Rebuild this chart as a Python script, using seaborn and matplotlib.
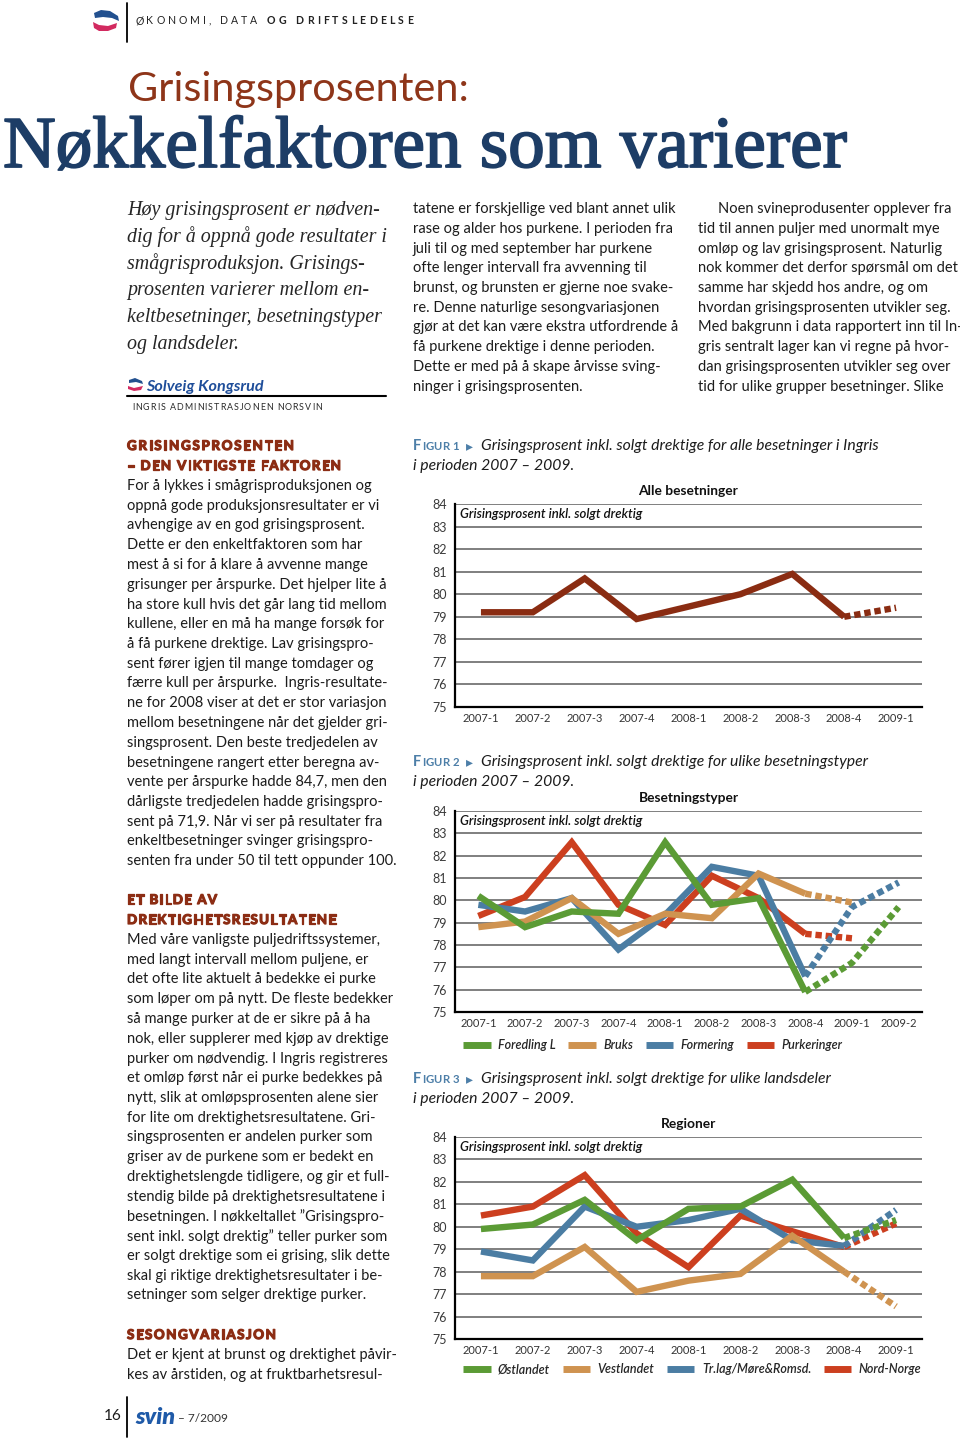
import numpy as np
import pandas as pd
import matplotlib
matplotlib.use("Agg")
import matplotlib.pyplot as plt
from matplotlib.lines import Line2D
from matplotlib.patches import Polygon
import matplotlib.patheffects as pe
import seaborn as sns

# ---------------- data ----------------
periods_fig1 = ["2007-1", "2007-2", "2007-3", "2007-4", "2008-1", "2008-2", "2008-3", "2008-4", "2009-1"]
alle_besetninger = [79.2, 79.2, 80.7, 78.9, 79.45, 80.0, 80.9, 79.0, 79.4]

periods_fig2 = ["2007-1", "2007-2", "2007-3", "2007-4", "2008-1", "2008-2", "2008-3", "2008-4", "2009-1", "2009-2"]
foredling_l = [80.2, 78.8, 79.5, 79.4, 82.6, 79.8, 80.1, 75.9, 77.2, 79.7]
bruks = [78.8, 79.05, 80.1, 78.5, 79.4, 79.2, 81.2, 80.3, 79.9, None]
formering = [79.8, 79.5, 80.1, 77.8, 79.35, 81.5, 81.1, 76.6, 79.7, 80.8]
purkeringer = [79.3, 80.15, 82.6, 79.8, 78.9, 81.1, 80.1, 78.5, 78.3, None]

periods_fig3 = periods_fig1
ostlandet = [79.9, 80.1, 81.2, 79.4, 80.8, 80.9, 82.1, 79.5, 80.3]
vestlandet = [77.8, 77.8, 79.1, 77.1, 77.6, 77.9, 79.6, 78.0, 76.45]
trlag_more = [78.9, 78.5, 80.9, 80.0, 80.3, 80.8, 79.4, 79.15, 80.75]
nord_norge = [80.5, 80.9, 82.3, 79.7, 78.2, 80.5, 79.8, 79.1, 80.15]

last_registered = "2008-4"   # later periods drawn dashed (preliminary)
y_ticks = [75, 76, 77, 78, 79, 80, 81, 82, 83, 84]

# ---------------- setup ----------------
sns.set_theme(style="white")
plt.rcParams["font.family"] = ["Lato", "DejaVu Sans"]

W, H = 960, 1439
fig = plt.figure(figsize=(W / 100, H / 100), dpi=100)
fig.patch.set_facecolor("white")
R = fig.canvas.get_renderer()

BODY = "#1c1c1c"
HEAD_RED = "#8c2d14"
NAVY = "#1d3d66"
FIG_BLUE = "#4d7fa8"


def put(x, y, s, va="center", ha="left", **kw):
    return fig.text(x / W, 1 - y / H, s, va=va, ha=ha, **kw)


def width(s, size, **kw):
    kw = {k: v for k, v in kw.items() if k != "path_effects"}
    t = fig.text(0, 0, s, fontsize=size, **kw)
    w = t.get_window_extent(renderer=R).width
    t.remove()
    return w


def fit(s, target, **kw):
    return 20 * target / width(s, 20, **kw)


def tracked(x, y, s, size, target, **kw):
    base = width("HH", size, **kw)
    ws = [width("H" + c + "H", size, **kw) - base for c in s]
    gap = (target - sum(ws)) / max(len(s) - 1, 1)
    for c, w in zip(s, ws):
        if c != " ":
            put(x, y, c, fontsize=size, **kw)
        x += w + gap
    return x


def vline(x, y1, y2, lw=1.3, color="black"):
    fig.add_artist(Line2D([x / W, x / W], [1 - y1 / H, 1 - y2 / H],
                          transform=fig.transFigure, color=color, lw=lw))


def hline(x1, x2, y, lw=1.3, color="black"):
    fig.add_artist(Line2D([x1 / W, x2 / W], [1 - y / H, 1 - y / H],
                          transform=fig.transFigure, color=color, lw=lw))


def poly(pts, color):
    fig.add_artist(Polygon([(x / W, 1 - y / H) for x, y in pts], closed=True,
                           transform=fig.transFigure, color=color, lw=0))


def thick(color, w):
    return [pe.withStroke(linewidth=w, foreground=color)]


# ---------------- header ----------------
poly([(94, 13), (101, 10), (110, 11), (118, 16), (119, 21), (112, 18), (103, 17), (95, 18)], "#22508f")
poly([(93, 22), (99, 25), (108, 26), (117, 23), (116, 28), (108, 31), (99, 31), (94, 28)], "#d22a60")
vline(127, 3, 42)
tracked(135, 21, "ØKONOMI, DATA", 7.6, 122, color="#222222")
tracked(267, 21, "OG DRIFTSLEDELSE", 7.6, 146, color="#222222", fontweight="bold")

s = fit("Grisingsprosenten:", 342)
put(128, 101, "Grisingsprosenten:", va="baseline", fontsize=s, color="#8e3519")
s = fit("Nøkkelfaktoren som varierer", 844, family="Liberation Serif")
put(3, 167, "Nøkkelfaktoren som varierer", va="baseline", fontsize=s,
    family="Liberation Serif", color=NAVY, path_effects=thick(NAVY, 1.3))

# ---------------- intro ----------------
intro_lines = ["Høy grisingsprosent er nødven-", "dig for å oppnå gode resultater i",
               "smågrisproduksjon. Grisings-", "prosenten varierer mellom en-",
               "keltbesetninger, besetningstyper", "og landsdeler."]
s_int = fit(intro_lines[1], 261, family="Liberation Serif", style="italic")
for i, ln in enumerate(intro_lines):
    put(127, 210 + i * 26.8, ln, fontsize=s_int, family="Liberation Serif",
        style="italic", color="#262626")

poly([(129, 380), (135, 378), (142, 381), (143, 384), (136, 382), (129, 383)], "#22508f")
poly([(128, 386), (134, 388), (143, 386), (141, 390), (134, 391), (128, 389)], "#d22a60")
s = fit("Solveig Kongsrud", 117, fontweight="bold", style="italic")
put(146, 387, "Solveig Kongsrud", fontsize=s, fontweight="bold", style="italic", color="#1f4e9a")
hline(127, 386, 396, lw=1.5)
tracked(132, 408, "INGRIS ADMINISTRASJONEN NORSVIN", 6.4, 190, color="#2a2a2a")

# ---------------- body text ----------------
s_body = fit("ha store kull hvis det går lang tid mellom", 258)
STEP = 19.75

mid_lines = ["tatene er forskjellige ved blant annet ulik", "rase og alder hos purkene. I perioden fra",
             "juli til og med september har purkene", "ofte lenger intervall fra avvenning til",
             "brunst, og brunsten er gjerne noe svake-", "re. Denne naturlige sesongvariasjonen",
             "gjør at det kan være ekstra utfordrende å", "få purkene drektige i denne perioden.",
             "Dette er med på å skape årvisse sving-", "ninger i grisingsprosenten."]
right_lines = ["Noen svineprodusenter opplever fra", "tid til annen puljer med unormalt mye",
               "omløp og lav grisingsprosent. Naturlig", "nok kommer det derfor spørsmål om det",
               "samme har skjedd hos andre, og om", "hvordan grisingsprosenten utvikler seg.",
               "Med bakgrunn i data rapportert inn til In-", "gris sentralt lager kan vi regne på hvor-",
               "dan grisingsprosenten utvikler seg over", "tid for ulike grupper besetninger. Slike"]
for i, ln in enumerate(mid_lines):
    put(413, 209 + i * STEP, ln, fontsize=s_body, color=BODY)
for i, ln in enumerate(right_lines):
    put(718 if i == 0 else 698, 209 + i * STEP, ln, fontsize=s_body, color=BODY)

sec1 = ["For å lykkes i smågrisproduksjonen og", "oppnå gode produksjonsresultater er vi",
        "avhengige av en god grisingsprosent.", "Dette er den enkeltfaktoren som har",
        "mest å si for å klare å avvenne mange", "grisunger per årspurke. Det hjelper lite å",
        "ha store kull hvis det går lang tid mellom", "kullene, eller en må ha mange forsøk for",
        "å få purkene drektige. Lav grisingspro-", "sent fører igjen til mange tomdager og",
        "færre kull per årspurke.  Ingris-resultate-", "ne for 2008 viser at det er stor variasjon",
        "mellom besetningene når det gjelder gri-", "singsprosent. Den beste tredjedelen av",
        "besetningene rangert etter beregna av-", "vente per årspurke hadde 84,7, men den",
        "dårligste tredjedelen hadde grisingspro-", "sent på 71,9. Når vi ser på resultater fra",
        "enkeltbesetninger svinger grisingspro-", "senten fra under 50 til tett oppunder 100."]
sec2 = ["Med våre vanligste puljedriftssystemer,", "med langt intervall mellom puljene, er",
        "det ofte lite aktuelt å bedekke ei purke", "som løper om på nytt. De fleste bedekker",
        "så mange purker at de er sikre på å ha", "nok, eller supplerer med kjøp av drektige",
        "purker om nødvendig. I Ingris registreres", "et omløp først når ei purke bedekkes på",
        "nytt, slik at omløpsprosenten alene sier", "for lite om drektighetsresultatene. Gri-",
        "singsprosenten er andelen purker som", "griser av de purkene som er bedekt en",
        "drektighetslengde tidligere, og gir et full-", "stendig bilde på drektighetsresultatene i",
        "besetningen. I nøkkeltallet ”Grisingspro-", "sent inkl. solgt drektig” teller purker som",
        "er solgt drektige som ei grising, slik dette", "skal gi riktige drektighetsresultater i be-",
        "setninger som selger drektige purker."]
sec3 = ["Det er kjent at brunst og drektighet påvir-", "kes av årstiden, og at fruktbarhetsresul-"]

HS = 9.6
HK = dict(color=HEAD_RED, fontweight="bold", path_effects=thick(HEAD_RED, 0.9))
tracked(127, 446, "GRISINGSPROSENTEN", HS, 167, **HK)
tracked(127, 466, "– DEN VIKTIGSTE FAKTOREN", HS, 214, **HK)
for i, ln in enumerate(sec1):
    put(127, 486 + i * STEP, ln, fontsize=s_body, color=BODY)
tracked(127, 900, "ET BILDE AV", HS, 90, **HK)
tracked(127, 920, "DREKTIGHETSRESULTATENE", HS, 209, **HK)
for i, ln in enumerate(sec2):
    put(127, 940 + i * STEP, ln, fontsize=s_body, color=BODY)
tracked(127, 1335, "SESONGVARIASJON", HS, 149, **HK)
for i, ln in enumerate(sec3):
    put(127, 1355 + i * STEP, ln, fontsize=s_body, color=BODY)

# footer
put(104, 1416, "16", fontsize=s_body * 1.05, color=BODY)
vline(127, 1397, 1437)
s = fit("svin", 40, fontweight="heavy", style="italic")
put(135, 1417, "svin", fontsize=s, fontweight="heavy", style="italic", color="#1f5aa8")
put(178, 1418, "– 7/2009", fontsize=8.6, color="#333333")

# ---------------- captions ----------------
s_cap = fit("Grisingsprosent inkl. solgt drektige for alle besetninger i Ingris", 399, style="italic")
captions = [(446, "1", "Grisingsprosent inkl. solgt drektige for alle besetninger i Ingris"),
            (762, "2", "Grisingsprosent inkl. solgt drektige for ulike besetningstyper"),
            (1079, "3", "Grisingsprosent inkl. solgt drektige for ulike landsdeler")]
for y, n, txt in captions:
    put(413, y, "F", fontsize=10.5, fontweight="bold", color=FIG_BLUE)
    tracked(422, y + 0.5, "IGUR " + n, 8.2, 37, fontweight="bold", color=FIG_BLUE)
    put(466, y, "▸", fontsize=10, color=FIG_BLUE, family="DejaVu Sans")
    put(481, y, txt, fontsize=s_cap, style="italic", color=BODY)
    put(413, y + 20, "i perioden 2007 – 2009.", fontsize=s_cap, style="italic", color=BODY)


# ---------------- charts ----------------
def chart(box, periods, series, colors, title, legend_pos=None):
    left, top, right, bottom = box
    ax = fig.add_axes([left / W, 1 - bottom / H, (right - left) / W, (bottom - top) / H])
    cut = periods.index(last_registered)
    rows = []
    for name, vals in series.items():
        for i, (p, v) in enumerate(zip(periods, vals)):
            if v is None:
                continue
            if i <= cut:
                rows.append(dict(period=p, pos=i, value=v, serie=name, fase="registrert"))
            if i >= cut:
                rows.append(dict(period=p, pos=i, value=v, serie=name, fase="foreløpig"))
    df = pd.DataFrame(rows)
    sns.lineplot(data=df, x="pos", y="value", hue="serie", style="fase",
                 hue_order=list(series)[::-1], style_order=["registrert", "foreløpig"],
                 palette=colors, dashes={"registrert": "", "foreløpig": (1.0, 0.6)},
                 linewidth=4.6, legend=False, errorbar=None, ax=ax,
                 solid_joinstyle="miter", solid_capstyle="butt", dash_capstyle="butt")
    n = len(periods)
    ax.set_xlim(-0.5, n - 0.5)
    ax.set_ylim(75, 84)
    ax.set_yticks(y_ticks)
    ax.set_yticklabels([str(t) for t in y_ticks], fontsize=9, color="#3a3a3a")
    ax.set_xticks(range(n))
    ax.set_xticklabels(periods, fontsize=8, color="#333333")
    ax.set_xticks(np.arange(n) + 0.5, minor=True)
    ax.tick_params(axis="x", which="major", length=0, pad=4)
    ax.tick_params(axis="x", which="minor", direction="in", length=4.5, width=1.5, color="black")
    ax.tick_params(axis="y", length=0, pad=6)
    ax.grid(axis="y", color="#5c5c5c", lw=1.1)
    ax.grid(axis="x", visible=False)
    ax.set_axisbelow(True)
    for sname in ("top", "right"):
        ax.spines[sname].set_visible(False)
    for sname in ("left", "bottom"):
        ax.spines[sname].set_color("black")
        ax.spines[sname].set_linewidth(1.6)
    ax.set_xlabel("")
    ax.set_ylabel("")
    ax.set_facecolor("white")
    st = fit("Alle besetninger", 100, fontweight="bold")
    put((left + right) / 2, top - 13, title, ha="center", fontsize=st, fontweight="bold", color="#111111")
    lab = "Grisingsprosent inkl. solgt drektig"
    put(left + 5, top + 10, lab, fontsize=fit(lab, 182, style="italic", fontweight="semibold"),
        style="italic", fontweight="semibold", color="#111111")
    if legend_pos is not None:
        names = list(series)
        handles = [Line2D([], [], color=colors[nm], lw=5, solid_capstyle="butt") for nm in names]
        fig.legend(handles, names, loc="center left",
                   bbox_to_anchor=(legend_pos[0] / W, 1 - legend_pos[1] / H),
                   ncol=len(names), frameon=False, handlelength=2.2, handletextpad=0.6,
                   columnspacing=1.0, borderpad=0, borderaxespad=0,
                   prop=dict(style="italic", weight="semibold", size=9))
    return ax


chart((455, 504, 922, 707), periods_fig1, {"Alle besetninger": alle_besetninger},
      {"Alle besetninger": "#8a2c12"}, "Alle besetninger")

colors2 = {"Foredling L": "#5b9b35", "Bruks": "#cf9350", "Formering": "#4b7da3", "Purkeringer": "#cc3f1f"}
chart((455, 811, 922, 1012), periods_fig2,
      {"Foredling L": foredling_l, "Bruks": bruks, "Formering": formering, "Purkeringer": purkeringer},
      colors2, "Besetningstyper", legend_pos=(463, 1045))

colors3 = {"Østlandet": "#5b9b35", "Vestlandet": "#cf9350", "Tr.lag/Møre&Romsd.": "#4b7da3", "Nord-Norge": "#cc3f1f"}
chart((455, 1137, 922, 1339), periods_fig3,
      {"Østlandet": ostlandet, "Vestlandet": vestlandet, "Tr.lag/Møre&Romsd.": trlag_more, "Nord-Norge": nord_norge},
      colors3, "Regioner", legend_pos=(463, 1369))

fig.savefig("out.png", dpi=100, facecolor="white")
